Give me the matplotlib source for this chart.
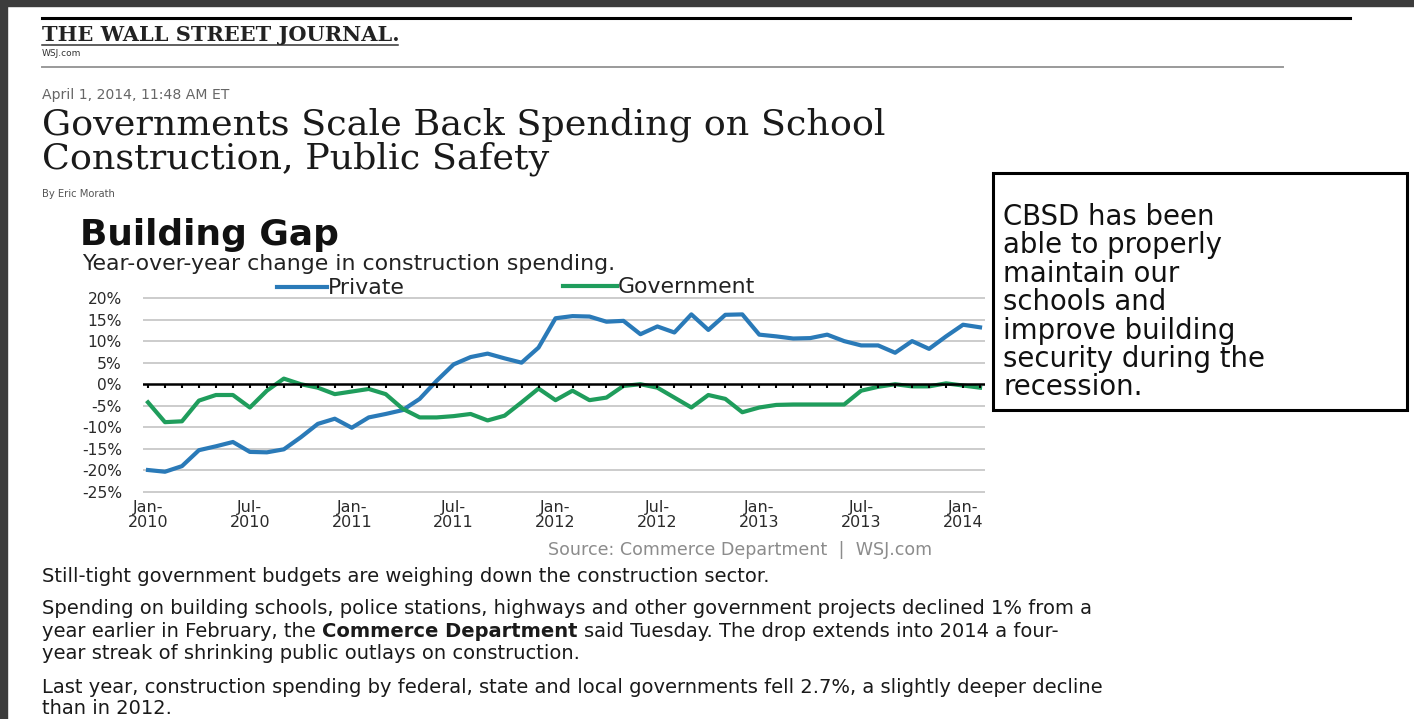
import matplotlib
matplotlib.use("Agg")
import matplotlib.pyplot as plt
from matplotlib.patches import Rectangle
from matplotlib.lines import Line2D
import numpy as np

# ---------------- data ----------------
private = [-19.9, -20.3, -19.0, -15.3, -14.4, -13.4, -15.7, -15.8, -15.1, -12.3,
           -9.2, -8.0, -10.1, -7.7, -6.9, -6.0, -3.4, 0.8, 4.6, 6.3,
           7.1, 6.0, 5.0, 8.5, 15.3, 15.8, 15.7, 14.5, 14.7, 11.6,
           13.4, 12.0, 16.2, 12.6, 16.1, 16.2, 11.5, 11.1, 10.6, 10.7,
           11.5, 10.0, 9.0, 9.0, 7.3, 10.0, 8.2, 11.1, 13.8, 13.2]
government = [-4.2, -8.8, -8.6, -3.8, -2.5, -2.5, -5.4, -1.5, 1.3, 0.0,
              -0.8, -2.3, -1.7, -1.1, -2.3, -5.7, -7.7, -7.7, -7.4, -6.9,
              -8.4, -7.3, -4.2, -1.0, -3.7, -1.5, -3.7, -3.1, -0.4, 0.0,
              -0.8, -3.1, -5.4, -2.5, -3.4, -6.5, -5.4, -4.8, -4.7, -4.7,
              -4.7, -4.7, -1.5, -0.6, 0.0, -0.5, -0.5, 0.2, -0.3, -0.8]
x_labels = ["Jan-\n2010", "Jul-\n2010", "Jan-\n2011", "Jul-\n2011", "Jan-\n2012",
            "Jul-\n2012", "Jan-\n2013", "Jul-\n2013", "Jan-\n2014"]
y_ticks = [20, 15, 10, 5, 0, -5, -10, -15, -20, -25]
series_names = ["Private", "Government"]

BLUE = "#2a7ab8"
GREEN = "#1f9d5c"

W, H, DPI = 1414, 719, 100
fig = plt.figure(figsize=(W / DPI, H / DPI), dpi=DPI)
fig.patch.set_facecolor("white")
renderer = fig.canvas.get_renderer()


def fx(x):
    return x / W


def fy(y):
    return 1 - y / H


def place(x, y, s, width=None, size=12, maxsize=None, ha="left", va="baseline", **kw):
    t = fig.text(fx(x), fy(y), s, fontsize=size * 0.72, ha=ha, va=va, **kw)
    if width:
        w = t.get_window_extent(renderer).width
        new = size * width / w
        if maxsize:
            new = min(new, maxsize)
        t.set_fontsize(new * 0.72)
    return t


def fit_size(s, width, maxsize, **kw):
    t = fig.text(0, 0, s, fontsize=10, **kw)
    w = t.get_window_extent(renderer).width
    t.remove()
    return min(10 / 0.72 * width / w, maxsize)


# ---------------- page decorations ----------------
fig.add_artist(Rectangle((0, fy(6)), 1, 6 / H, transform=fig.transFigure,
                         color="#3c3c3c", zorder=0))
fig.add_artist(Rectangle((0, 0), 7 / W, 1, transform=fig.transFigure,
                         color="#3c3c3c", zorder=0))
fig.add_artist(Line2D([fx(42), fx(1350)], [fy(18), fy(18)], color="black", lw=2.2))
fig.add_artist(Line2D([fx(42), fx(1283)], [fy(67), fy(67)], color="#9a9a9a", lw=1.4))

place(42, 41, "THE WALL STREET JOURNAL.", width=356, size=16, maxsize=21,
      family="DejaVu Serif", weight="bold", color="#222222")
fig.add_artist(Line2D([fx(42), fx(398)], [fy(45), fy(45)], color="#333333", lw=1.1))
place(42, 56, "WSJ.com", width=64, size=8, maxsize=9, family="DejaVu Sans", color="#333333")
place(42, 99, "April 1, 2014, 11:48 AM ET", width=283, size=12, maxsize=14,
      family="DejaVu Sans", color="#666666")

tsize = fit_size("Governments Scale Back Spending on School", 1075, 36.5, family="DejaVu Serif")
place(42, 135, "Governments Scale Back Spending on School", size=tsize,
      family="DejaVu Serif", color="#1a1a1a")
place(42, 169, "Construction, Public Safety", size=tsize, family="DejaVu Serif", color="#1a1a1a")
place(42, 197, "By Eric Morath", width=91, size=9, maxsize=10, family="DejaVu Sans", color="#555555")

# ---------------- chart titles ----------------
place(80, 245, "Building Gap", width=335, size=30, maxsize=36,
      family="DejaVu Sans", weight="bold", color="#111111")
place(82, 270, "Year-over-year change in construction spending.", width=780, size=18, maxsize=22,
      family="DejaVu Sans", color="#222222")

# legend
fig.add_artist(Line2D([fx(277), fx(327)], [fy(287), fy(287)], color=BLUE, lw=3.0))
place(328, 294, series_names[0], width=112, size=18, maxsize=22, family="DejaVu Sans", color="#222222")
fig.add_artist(Line2D([fx(563), fx(617)], [fy(286), fy(286)], color=GREEN, lw=3.0))
place(618, 293, series_names[1], width=195, size=18, maxsize=22, family="DejaVu Sans", color="#222222")

# ---------------- chart ----------------
px_per_pct = (492 - 298) / 45.0
top_px = 298 - 0.6 * px_per_pct
bot_px = 492 + 0.6 * px_per_pct
left_px, right_px = 143, 985
dx = 16.98
x_first = 148
ax = fig.add_axes([fx(left_px), fy(bot_px), (right_px - left_px) / W, (bot_px - top_px) / H])
ax.set_ylim(-25.6, 20.6)
ax.set_xlim((left_px - x_first) / dx, (right_px - x_first) / dx)
for s in ax.spines.values():
    s.set_visible(False)
ax.set_facecolor("none")

idx = np.arange(len(private))
for v in y_ticks:
    if v != 0:
        ax.axhline(v, color="#c4c4c4", lw=1.2, zorder=1)
ax.plot(idx, private, color=BLUE, lw=3.0, solid_joinstyle="round", zorder=3)
ax.plot(idx, government, color=GREEN, lw=3.0, solid_joinstyle="round", zorder=3)
ax.axhline(0, color="black", lw=1.8, zorder=4)
ax.vlines(np.arange(0, 50), -0.8, 0, color="black", lw=1.5, zorder=4)

ax.set_yticks(y_ticks)
ax.set_yticklabels([f"{v}%" for v in y_ticks], family="DejaVu Sans", fontsize=15.5 * 0.72,
                   color="#2a2a2a")
ax.set_xticks(np.arange(0, 49, 6))
ax.set_xticklabels(x_labels, family="DejaVu Sans", fontsize=16 * 0.72, color="#2a2a2a",
                   linespacing=0.95)
ax.tick_params(axis="y", length=0, pad=(left_px - 122) * 0.72)
ax.tick_params(axis="x", length=0, pad=4)

place(740, 555, "Source: Commerce Department  |  WSJ.com", width=535, size=15, maxsize=17.5,
      ha="center", family="DejaVu Sans", color="#8c8c8c")

# ---------------- text box ----------------
fig.add_artist(Rectangle((fx(993), fy(410)), (1407 - 993) / W, (410 - 173) / H,
                         transform=fig.transFigure, fill=True, facecolor="white",
                         edgecolor="black", lw=2.2, zorder=5))
box_lines = ["CBSD has been", "able to properly", "maintain our", "schools and",
             "improve building", "security during the", "recession."]
bsize = fit_size("security during the", 360, 27.5, family="DejaVu Sans")
for k, line in enumerate(box_lines):
    t = place(1003, 225 + k * 28.4, line, size=bsize, family="DejaVu Sans", color="#111111")
    t.set_zorder(6)

# ---------------- body text ----------------
body_size = fit_size("Spending on building schools, police stations, highways and other government "
                     "projects declined 1% from a", 1241, 19.5, family="DejaVu Sans")


def body(y, segs):
    x = 42
    space = body_size * 0.318
    for k, (s, bold) in enumerate(segs):
        t = place(x, y, s, size=body_size, family="DejaVu Sans",
                  weight="bold" if bold else "normal", color="#1a1a1a")
        x = t.get_window_extent(renderer).x1 + space


body(582, [("Still-tight government budgets are weighing down the construction sector.", False)])
body(614, [("Spending on building schools, police stations, highways and other government "
            "projects declined 1% from a", False)])
body(637, [("year earlier in February, the", False), ("Commerce Department", True),
           ("said Tuesday. The drop extends into 2014 a four-", False)])
body(659, [("year streak of shrinking public outlays on construction.", False)])
body(693, [("Last year, construction spending by federal, state and local governments fell 2.7%, "
            "a slightly deeper decline", False)])
body(714, [("than in 2012.", False)])

fig.savefig("out.png", dpi=DPI)
